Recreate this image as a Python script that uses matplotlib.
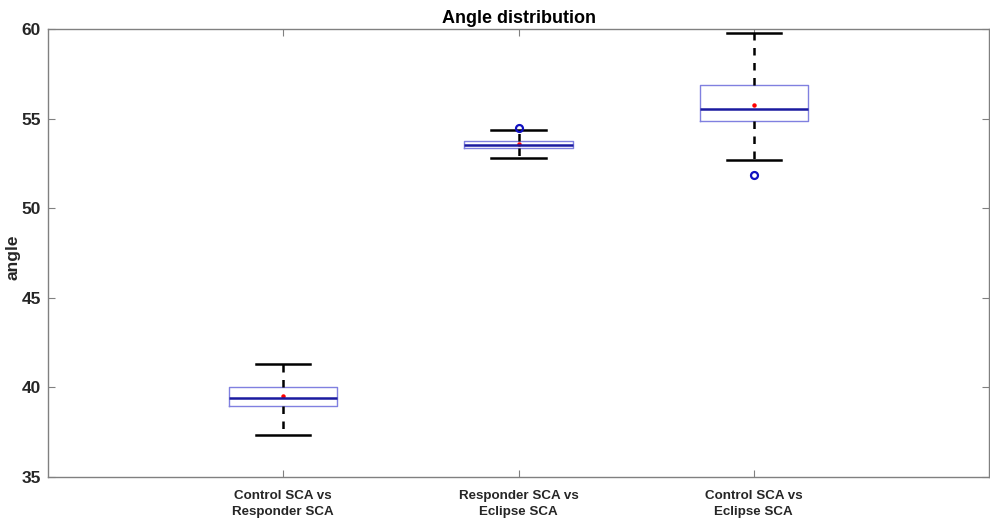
import numpy as np
import matplotlib.pyplot as plt

plt.rcParams['font.family'] = ['Liberation Sans', 'DejaVu Sans']

# box statistics per comparison
groups = ['Control SCA vs\nResponder SCA', 'Responder SCA vs\nEclipse SCA', 'Control SCA vs\nEclipse SCA']
whislo = [37.35, 52.78, 52.68]
q1 = [38.95, 53.36, 54.86]
med = [39.43, 53.54, 55.55]
q3 = [40.05, 53.74, 56.88]
whishi = [41.33, 54.38, 59.78]
means = [39.50, 53.56, 55.75]
fliers = [[], [54.48], [51.85]]


def main():
    stats = []
    for i in range(len(groups)):
        stats.append(dict(label=groups[i], whislo=whislo[i], q1=q1[i], med=med[i],
                          q3=q3[i], whishi=whishi[i], fliers=fliers[i]))

    fig = plt.figure(figsize=(9.9, 5.18), dpi=100)
    ax = fig.add_axes([0.0485, 0.079, 0.9505, 0.865])

    pos = np.arange(1, len(groups) + 1)
    ax.bxp(stats, positions=pos, widths=0.46, showfliers=True,
           boxprops=dict(color='#8080e0', linewidth=1.0),
           medianprops=dict(color='#1a1aa0', linewidth=1.8),
           whiskerprops=dict(color='black', linestyle=(0, (3, 3)), linewidth=1.8),
           capprops=dict(color='black', linewidth=1.8),
           flierprops=dict(marker='o', markerfacecolor='none', markeredgecolor='#1010c0',
                           markersize=5, markeredgewidth=1.6),
           capwidths=0.23)
    ax.plot(pos, means, linestyle='none', marker='o', color='red', markersize=2.2)

    ax.set_xlim(0, 4)
    ax.set_ylim(35, 60)
    ax.set_yticks(np.arange(35, 61, 5))
    ax.set_xticks(pos)
    ax.set_xticklabels(groups, fontsize=9.6, fontweight='bold', color='#262626',
                       linespacing=1.45)
    for lab in ax.get_yticklabels():
        lab.set_fontsize(12.5)
        lab.set_fontweight('bold')
        lab.set_color('#262626')
    ax.tick_params(direction='in', top=True, right=True, length=5, color='#808080')
    ax.tick_params(axis='x', pad=9)
    ax.tick_params(axis='y', pad=5)
    for sp in ax.spines.values():
        sp.set_color('#808080')
        sp.set_linewidth(1.0)

    ax.set_ylabel('angle', fontsize=12.5, fontweight='bold', color='#262626')
    ax.yaxis.set_label_coords(-0.029, 0.49)
    ax.set_title('Angle distribution', fontsize=13, fontweight='bold', pad=4)

    fig.savefig('out.png', dpi=100)


if __name__ == "__main__":
    main()
